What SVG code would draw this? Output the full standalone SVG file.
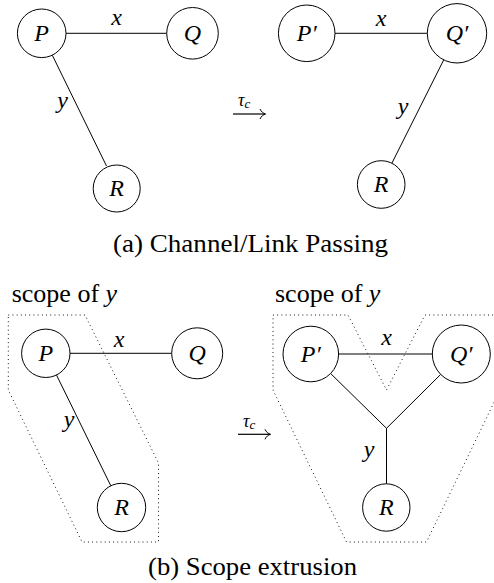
<svg xmlns="http://www.w3.org/2000/svg" width="494" height="583" viewBox="0 0 494 583" font-family="'Liberation Serif', 'Times New Roman', 'DejaVu Serif', 'Noto Serif', Times, serif">
<style>
.nd{fill:#fff;stroke:#000;stroke-width:1}
.m{font-style:italic;font-size:24px;text-anchor:middle;fill:#000}
.t{font-size:26px;fill:#000}
.ln{stroke:#000;stroke-width:1;fill:none}
.dot{stroke:#000;stroke-width:1;fill:none;stroke-dasharray:0.9 3.3}
.ar{stroke:#000;stroke-width:1.2;fill:none}
.tau{font-style:italic;font-size:18px;fill:#000}
.sub{font-size:13px}
</style>
<rect width="494" height="583" fill="#fff"/>
<g id="scopes">
<polygon class="dot" points="8.3,315 85,315 158.5,463 158.5,542 82,542 8.3,390"/>
<polygon class="dot" points="273,315 348,315 386.5,390 425,315 500,315 500,390 426.5,542 346.5,542 273,390"/>
</g>
<g id="connectors">
<line class="ln" x1="66" y1="33.3" x2="166.7" y2="33.3"/>
<line class="ln" x1="52.3" y1="55.2" x2="106.5" y2="166"/>
<line class="ln" x1="335" y1="33.3" x2="427.3" y2="33.3"/>
<line class="ln" x1="443.7" y1="59.9" x2="391.9" y2="163.2"/>
<line class="ln" x1="70" y1="353.3" x2="171.7" y2="353.3"/>
<line class="ln" x1="56.5" y1="375" x2="110.8" y2="485.8"/>
<line class="ln" x1="338.6" y1="354" x2="432.3" y2="354"/>
<line class="ln" x1="330.6" y1="373.5" x2="386.5" y2="428.3"/>
<line class="ln" x1="440.7" y1="374.4" x2="386.5" y2="428.3"/>
<line class="ln" x1="386.5" y1="428.3" x2="386.5" y2="483.8"/>
<path class="ar" d="M233,114 H265"/>
<path class="ln" d="M260,109 C261.3,111.8 263.3,113.4 265.6,114 C263.3,114.6 261.3,116.2 260,119"/>
<path class="ar" d="M238,434.3 H270"/>
<path class="ln" d="M265,429.3 C266.3,432.1 268.3,433.7 270.6,434.3 C268.3,434.9 266.3,436.5 265,439.3"/>
<text class="m" x="116.5" y="25">x</text>
<text class="m" x="62.5" y="108">y</text>
<text class="m" x="381" y="26">x</text>
<text class="m" x="403" y="113.5">y</text>
<text class="m" x="119" y="346.5">x</text>
<text class="m" x="69" y="426.5">y</text>
<text class="m" x="386.7" y="345">x</text>
<text class="m" x="369" y="456.5">y</text>
<text class="tau" x="238" y="106">τ<tspan class="sub" dy="2">c</tspan></text>
<text class="tau" x="243" y="427">τ<tspan class="sub" dy="2">c</tspan></text>
</g>
<g id="a-P"><circle class="nd" cx="41.7" cy="33.3" r="24.3"/><text class="m" x="41.7" y="41">P</text></g>
<g id="a-Q"><circle class="nd" cx="192.5" cy="33.3" r="25.8"/><text class="m" x="192.5" y="41">Q</text></g>
<g id="a-R"><circle class="nd" cx="116.7" cy="188.5" r="23.5"/><text class="m" x="116.7" y="196">R</text></g>
<g id="a-P2"><circle class="nd" cx="306.7" cy="33.3" r="28.3"/><text class="m" x="306.7" y="41">P′</text></g>
<g id="a-Q2"><circle class="nd" cx="457" cy="33.3" r="29.7"/><text class="m" x="457" y="41">Q′</text></g>
<g id="a-R2"><circle class="nd" cx="381.2" cy="184.5" r="23.8"/><text class="m" x="381.2" y="192">R</text></g>
<g id="b-P"><circle class="nd" cx="45.8" cy="353.3" r="24.2"/><text class="m" x="45.8" y="361">P</text></g>
<g id="b-Q"><circle class="nd" cx="197.2" cy="353.3" r="25.5"/><text class="m" x="197.2" y="361">Q</text></g>
<g id="b-R"><circle class="nd" cx="121.5" cy="507.5" r="24.2"/><text class="m" x="121.5" y="515">R</text></g>
<g id="b-P2"><circle class="nd" cx="310.8" cy="354" r="27.8"/><text class="m" x="310.8" y="362">P′</text></g>
<g id="b-Q2"><circle class="nd" cx="461.3" cy="354" r="29"/><text class="m" x="461.3" y="362">Q′</text></g>
<g id="b-R2"><circle class="nd" cx="386.3" cy="507.5" r="23.7"/><text class="m" x="386.3" y="515">R</text></g>
<g id="labels">
<text class="t" x="113" y="252" textLength="275" lengthAdjust="spacingAndGlyphs">(a) Channel/Link Passing</text>
<text class="t" x="148" y="575" textLength="209" lengthAdjust="spacingAndGlyphs">(b) Scope extrusion</text>
<text class="t" x="11.7" y="302">scope of <tspan font-style="italic">y</tspan></text>
<text class="t" x="275" y="302">scope of <tspan font-style="italic">y</tspan></text>
</g>
</svg>
